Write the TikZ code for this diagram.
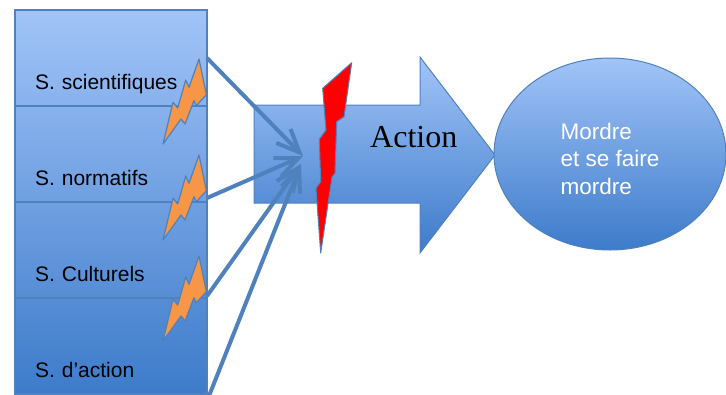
\documentclass[tikz,border=0pt]{standalone}
\usepackage{fontspec}
\setsansfont{Liberation Sans}
\newfontfamily\actfont{Liberation Serif}
\usetikzlibrary{positioning}
\usetikzlibrary{shapes.geometric, arrows.meta}
\definecolor{colTop}{RGB}{161,196,248}
\definecolor{colBot}{RGB}{61,123,202}
\definecolor{rim}{RGB}{79,129,189}
\definecolor{sparkOrange}{RGB}{247,150,70}

\begin{document}
\begin{tikzpicture}[x=1pt,y=-1pt,
	sbox/.style 2 args={draw=rim, line width=2pt, top color=colBot!#1!colTop, bottom color=colBot!#2!colTop, minimum width=192pt, minimum height=96pt, inner xsep=20pt, text width=152pt, align=left, text height=62pt, text depth=0pt, outer sep=0pt, font=\sffamily\fontsize{21}{25}\selectfont},
	feed/.style={draw=rim, line width=4pt, -{Straight Barb[length=23pt,width=20pt]}},
	spark/.style={fill=sparkOrange, draw=rim, line width=1.2pt, line join=round},
	crack/.style={fill=red, draw=rim, line width=1pt, line join=round}]
					\useasboundingbox (0,0) rectangle (726,394);
					\clip (0,0) rectangle (726,394);
					\node[sbox={0}{25}, anchor=north west] (sc) at (15,10) {S. scientifiques};
					\node[sbox={25}{50}, below=0pt of sc] (no) {S. normatifs};
					\node[sbox={50}{75}, below=0pt of no] (cu) {S. Culturels};
					\node[sbox={75}{100}, below=0pt of cu] (da) {S. d’action};
					\shade[top color=colTop, bottom color=colBot, draw=rim, line width=1pt] (254,105) -- (420,105) -- (420,57) -- (495,155) -- (420,253) -- (420,203) -- (254,203) -- cycle;
					\node[font=\actfont\fontsize{32}{36}\selectfont, anchor=base west, inner sep=0pt] (act) at (370,147) {Action};
					\node[ellipse, draw=rim, line width=1pt, top color=colTop, bottom color=colBot, minimum width=232pt, minimum height=192pt, text=white, align=left, text height=80pt, text depth=0pt, font=\sffamily\fontsize{22.5}{27.5}\selectfont] (goal) at (610,154) {Mordre\\et se faire\\mordre};
					\coordinate (hitA) at (303,156);
					\coordinate (hitB) at (301,164);
					\draw[feed] (sc.east) -- (hitA);
					\draw[feed] ([yshift=4pt]no.south east) -- (hitA);
					\draw[feed] ([yshift=2pt]cu.south east) -- (hitB);
					\draw[feed] ([yshift=-7pt]da.south east) -- (hitB);
					\foreach \y in {59,155,256}
						\filldraw[spark, shift={(199,\y)}] (0,0) -- (7.4,35.7) -- (-2.6,46.7) -- (-5,41.7) -- (-14,65) -- (-18,60) -- (-36,85) -- (-26,43.3) -- (-21.3,49) -- (-13.3,21) -- (-10,28.3) -- cycle;
					\filldraw[crack] (351.7,62.7) -- (344,116.7) -- (336.7,121.7) -- (335,173) -- (332,177) -- (320.7,253) -- (316,188.3) -- (320.7,181.7) -- (319.3,139.3) -- (326,130) -- (322.7,88.3) -- cycle;
				\end{tikzpicture}
\end{document}
